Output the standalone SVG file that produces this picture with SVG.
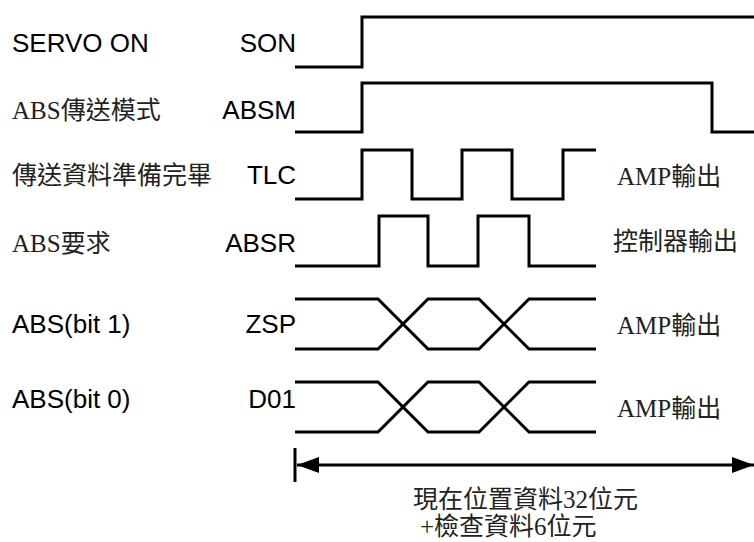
<svg xmlns="http://www.w3.org/2000/svg" width="754" height="542" viewBox="0 0 754 542">
<style>
.w{fill:none;stroke:#000;stroke-width:3;stroke-linejoin:miter;stroke-linecap:butt}
.s{font-family:"Liberation Sans",Arial,sans-serif;font-size:26px;fill:#000}
.m{font-family:"Liberation Serif","Noto Sans CJK TC",serif;font-size:25px;fill:#222}
.e{text-anchor:end}
</style>
<defs>
<marker id="ah" markerWidth="24" markerHeight="18" refX="22" refY="8" orient="auto-start-reverse" markerUnits="userSpaceOnUse">
<path d="M0,0 L22,8 L0,16 Z" fill="#000"/>
</marker>
</defs>
<rect width="754" height="542" fill="#fff"/>
<g id="son">
<text class="s" x="12" y="52">SERVO ON</text>
<text class="s e" x="296" y="52">SON</text>
<path class="w" d="M295,67 H362 V17 H756"/>
</g>
<g id="absm">
<text class="m" x="12" y="119">ABS傳送模式</text>
<text class="s e" x="296" y="119">ABSM</text>
<path class="w" d="M295,132 H362 V83 H712 V132 H756"/>
</g>
<g id="tlc">
<text class="m" x="12" y="184">傳送資料準備完畢</text>
<text class="s e" x="296" y="184">TLC</text>
<path class="w" d="M295,199 H362 V150 H412 V199 H462 V150 H512 V199 H563 V150 H596"/>
<text class="m" x="617" y="185">AMP輸出</text>
</g>
<g id="absr">
<text class="m" x="12" y="252">ABS要求</text>
<text class="s e" x="296" y="252">ABSR</text>
<path class="w" d="M295,266 H379 V216 H428 V266 H478 V216 H529 V266 H596"/>
<text class="m" x="613" y="250">控制器輸出</text>
</g>
<g id="zsp">
<text class="s" x="12" y="333">ABS(bit 1)</text>
<text class="s e" x="296" y="333">ZSP</text>
<path class="w" d="M295,299 H378 L428,349 H479 L529,299 H596"/>
<path class="w" d="M295,349 H378 L428,299 H479 L529,349 H596"/>
<text class="m" x="617" y="334">AMP輸出</text>
</g>
<g id="d01">
<text class="s" x="12" y="408">ABS(bit 0)</text>
<text class="s e" x="296" y="408">D01</text>
<path class="w" d="M295,382 H378 L428,432 H479 L529,382 H596"/>
<path class="w" d="M295,432 H378 L428,382 H479 L529,432 H596"/>
<text class="m" x="617" y="417">AMP輸出</text>
</g>
<g id="connectors">
<line class="w" x1="295" y1="448" x2="295" y2="482"/>
<line class="w" x1="297" y1="465" x2="754" y2="465" marker-start="url(#ah)" marker-end="url(#ah)"/>
</g>
<g id="span-label">
<text class="m" x="413" y="508">現在位置資料32位元</text>
<text class="m" x="420" y="535">+檢查資料6位元</text>
</g>
</svg>
